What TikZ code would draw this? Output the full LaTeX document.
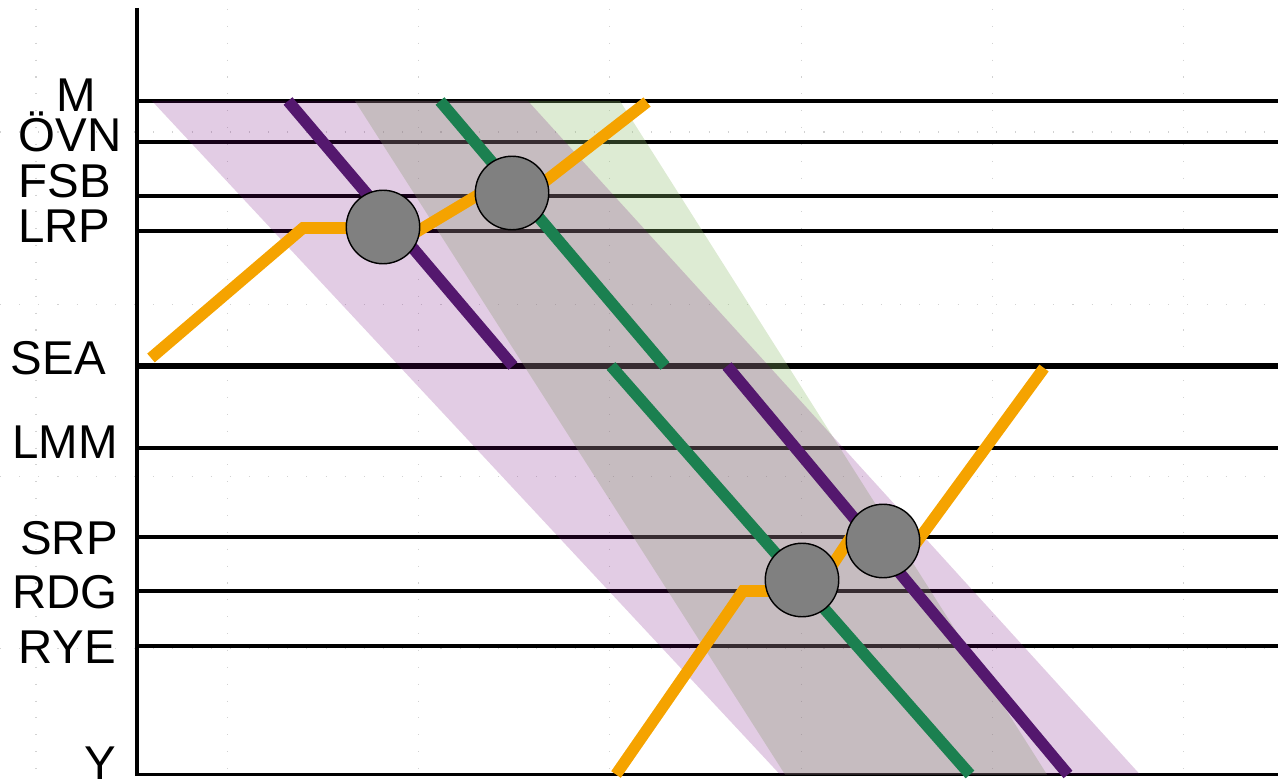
\documentclass[tikz,border=0pt]{standalone}
\usepackage{fontspec}
\setmainfont{Liberation Sans}
\usetikzlibrary{positioning}
\definecolor{routepurple}{RGB}{84,24,110}
\definecolor{routegreen}{RGB}{27,128,80}
\definecolor{routeorange}{RGB}{245,163,0}
\definecolor{bandpurple}{RGB}{110,0,120}
\definecolor{bandgreen}{RGB}{142,188,108}
\definecolor{meetgray}{RGB}{128,128,128}

\begin{document}
\begin{tikzpicture}[x=0.02cm,y=-0.02cm,
  station/.style={anchor=base east,inner sep=0pt,font=\fontsize{27}{29}\selectfont},
  level/.style={line width=2pt},
  route/.style={line width=6.6pt},
  gridline/.style={gray!35,line width=0.6pt},
  meet/.style={circle,draw=black,line width=0.8pt,fill=meetgray,minimum size=1.47cm,inner sep=0pt}]
  \useasboundingbox (0,0) rectangle (1278,780);
  \foreach \i in {0,...,6}
    \draw[gridline,dash pattern=on 0.6pt off 9pt] (36+191.3*\i,9) -- (36+191.3*\i,780);
  \foreach \i in {0,...,3}
    \draw[gridline,dash pattern=on 0.6pt off 10.3pt] (0,132+172.3*\i) -- (1278,132+172.3*\i);
  \foreach \y in {101,142,196,231,448,537,591,646}
    \draw[level] (137,\y) -- (1278,\y);
  \draw[level,line width=3.4pt] (137,366) -- (1278,366);
  \draw[line width=2.2pt] (137,8) -- (137,774.5) -- (1278,774.5);
  \node[station] (sM) at (96,112) {M};
  \node[station] (sOVN) at (122,152) {ÖVN};
  \node[station] (sFSB) at (111,198) {FSB};
  \node[station] (sLRP) at (111,243) {LRP};
  \node[station] (sSEA) at (106,375) {SEA};
  \node[station] (sLMM) at (118,459) {LMM};
  \node[station] (sSRP) at (118,554) {SRP};
  \node[station] (sRDG) at (118,608) {RDG};
  \node[station] (sRYE) at (116,663) {RYE};
  \node[station] (sY) at (116,779) {Y};
  \fill[bandgreen,opacity=0.3](355,101)--(620,101)--(1047,774.5)--(785,774.5)--cycle;
  \fill[bandpurple,opacity=0.2](152,101)--(528,101)--(1140,774.5)--(780,774.5)--cycle;
  \draw[route,routepurple](288,101)--(513,366);
  \draw[route,routegreen](440,101)--(665,366);
  \draw[route,routegreen](611,366)--(970,774.5);
  \draw[route,routepurple](727,366)--(1068,774.5);
  \draw[route,routeorange](151,358)--(303,228)--(383,228)--(400,241.8)--(495,184.8)--(525,197)--(647,102);
  \draw[route,routeorange](616,774.5)--(743,591)--(815,591)--(860,523.5)--(900,565)--(1044,368);
  \node[meet] (meetA) at (383,227) {};
  \node[meet] (meetB) at (512,193) {};
  \node[meet] (meetC) at (802,580) {};
  \node[meet] (meetD) at (883,541) {};
\end{tikzpicture}
\end{document}
